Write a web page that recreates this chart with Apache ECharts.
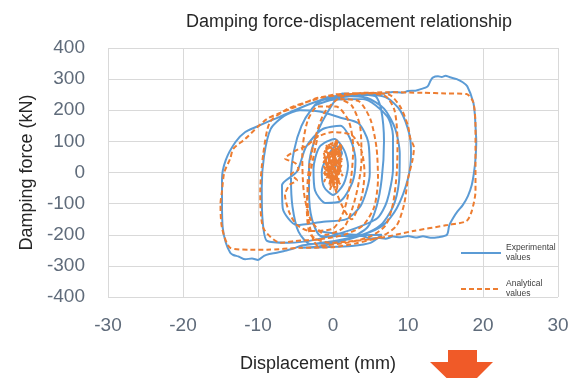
<!DOCTYPE html>
<html>
<head>
<meta charset="utf-8">
<script src="https://cdn.jsdelivr.net/npm/echarts@6/dist/echarts.min.js"></script>
<style>
  html, body { margin: 0; padding: 0; background: #fff; }
  #chart { width: 587px; height: 378px; }
</style>
</head>
<body>
<div id="chart"></div>
<script>
// axis ticks
const xTicks = [-30, -20, -10, 0, 10, 20, 30]
const yTicks = [-400, -300, -200, -100, 0, 100, 200, 300, 400]

const experimental = [
  [0, 0], [0.6, 35], [1.2, 62], [0.4, 86], [-0.8, 48], [-1.5, 2], [-1.2, -46], [0, -72],
  [1.4, -38], [2, 22], [1.5, 71], [0.2, 108], [-1.8, 82], [-2.6, 12], [-2.4, -58], [-1, -98],
  [1, -92], [2.6, -31], [3, 41], [2.4, 102],
  // loop to about -7 / +5
  [1, 150], [-1.5, 138], [-3.6, 82], [-4.8, 3], [-6.8, -41], [-6.7, -115], [-4.8, -169],
  [-1.3, -158], [1.8, -150], [3.8, -102], [4.9, -4], [4.7, 98], [3.4, 158], [1, 176],
  // loop to about -9 / +8
  [-1.8, 196], [-4.4, 200], [-6.5, 182], [-8.3, 140], [-9.2, 52], [-9.5, -48], [-9.4, -150],
  [-8.8, -220], [-6, -226], [-2, -214], [2.3, -185], [5.9, -147], [7.2, -92], [8, 13],
  [8, 118], [7.2, 181], [4, 236], [0, 234],
  // loop to about +9
  [-2.5, 215], [-1, 240], [1.5, 246], [4.5, 240], [6.8, 205], [8.3, 140], [8.9, 60],
  [8.8, -30], [8, -110], [6.4, -168], [3.8, -202], [0.5, -222], [-3, -230],
  // loop to about +10
  [-4.6, -190], [-5.4, -110], [-5.6, -20], [-5.2, 70], [-4.2, 150], [-2.8, 205],
  [-1.5, 232], [2, 244], [4.5, 251], [7.2, 240], [9, 198], [10.2, 121], [10.4, 62],
  [10, -19], [8.5, -115], [6.7, -169], [4, -199], [0, -221], [-4, -234],
  // biggest left loop
  [-5.5, -246], [-6.5, -252], [-7.5, -258], [-8.5, -262], [-9.2, -268], [-10, -281],
  [-10.8, -276], [-11.7, -279], [-12.6, -270], [-13.3, -265], [-13.7, -258], [-14.3, -225],
  [-14.7, -178], [-14.8, -100], [-14.8, -20], [-14.3, 40], [-13, 98], [-11.7, 130],
  [-10.2, 147], [-8.8, 162], [-7.2, 178], [-5.7, 194], [-3, 221], [0, 244], [3, 250],
  [5.6, 246], [6.4, 205], [6.8, 100], [6.5, -20], [5.8, -110], [4.6, -176], [2, -214],
  [-1.5, -236], [-4.4, -242], [-1, -240], [2.5, -236], [5, -226], [6.5, -200],
  // loop to about +19
  [-1.5, -205], [-2.8, -150], [-3.2, -60], [-3.2, 20], [-2.5, 100], [-1, 182], [1.3, 254],
  [3, 252], [5, 255], [6.5, 253], [8, 259], [9.2, 256], [10, 262], [11, 263], [11.6, 267],
  [12.6, 276], [13, 295], [13.3, 305], [14, 309], [14.5, 307], [15, 311], [15.6, 306],
  [16.5, 300], [17.3, 290], [17.9, 277], [18.7, 226], [18.9, 190], [19, 150], [19.1, 100],
  [19, 45], [18.8, 0], [18.5, -40], [18, -75], [17.3, -105], [16.6, -125], [16, -147],
  [15.5, -170], [15.2, -200], [14, -208], [13, -210], [12, -205], [11, -209], [10, -204],
  [9, -208], [8, -206], [7, -213], [6, -210], [5, -212], [4, -205], [3, -200], [0, -195],
  [-2, -188]
]

// analytical values (displacement mm, force kN)
const analytical = [
  [0, 0], [0.8, 60], [-0.9, 20], [1, 92], [-1.1, -10], [0.6, 102], [-0.5, -40], [1.2, 30],
  [-1.3, 70], [0.4, -58], [1.1, 82], [-0.8, -20], [0.9, 10], [-1.2, 50], [0.2, -48], [1, 62],
  [-0.6, 96], [0.7, -30], [-1, 40], [0.3, 76], [-0.4, -55], [1.2, 45], [-1.2, -5], [0.5, 108],
  [-0.2, -22], [0.9, 20], [-0.7, 64], [0.1, -40], [1.1, 88], [-1.3, 28], [0.6, -45],
  [-0.3, 84], [1.3, -12], [-1, 92], [0.2, 36], [-1.2, -30], [0.8, 72], [-0.5, 12],
  [1, -38], [-0.9, 78], [0.4, 100], [-0.1, -10],
  // wiggly inner loop
  [2.5, -150], [3.8, -80], [4.2, 0], [3.8, 70], [2.5, 120], [0, 130], [-2, 115], [-3.5, 86],
  [-5, 70], [-6.4, 45], [-5, 30], [-4.6, 10], [-5.6, -5], [-4.8, -25], [-5.8, -40], [-6.4, -73],
  [-5.8, -130], [-4.8, -169], [-3.1, -188], [0, -180], [1.5, -120], [2.4, -20], [2.7, 80],
  [2.1, 165], [0.4, 212], [-2, 212], [-3.4, 165], [-4.1, 60], [-3.9, -60], [-3, -150],
  [-1, -200], [1.5, -175], [3, -80], [3.8, 40], [3.6, 150], [2.5, 215], [1, 236],
  // loop to about -10 / +6
  [3.5, 228], [5, 170], [5.8, 80], [6, -20],
  [5.5, -110], [4, -170], [1.5, -200], [-2, -215], [-5, -220], [-7, -226], [-9.3, -178],
  [-9.7, -60], [-9.3, 60], [-8.4, 162], [-6, 205], [-3, 230], [0, 250],
  // loop to about +8
  [4, 255], [7, 245], [8.2, 200], [8.6, 100], [8.5, 0], [8, -100], [7, -170], [5, -205],
  [2, -225], [-2, -235], [-3.2, -160], [-3.4, -40], [-2.6, 90], [-1.2, 190], [1, 242],
  // loop to about +10.5 and biggest left loop
  [4, 256], [7.5, 250], [9, 210], [10, 150], [10.3, 110], [10.8, 80], [10.6, 40], [10, -20],
  [9.5, -100], [8.5, -170], [6.5, -205], [3, -228], [0, -240], [-4.4, -242], [-8.8, -248],
  [-11, -248], [-13.7, -242], [-14.8, -178], [-15, -100], [-14.8, -60], [-14.5, 0],
  [-13.7, 45], [-13.3, 76], [-11.7, 108], [-8.8, 172], [-5.7, 204], [-4.4, 217], [-2, 240],
  [2, 250],
  // loop to about +19
  [7.2, 258], [12, 256], [15, 254], [17.8, 252], [18.7, 226], [19, 150], [19, 100], [19, -60],
  [18.5, -124], [17.8, -156], [15.2, -169], [10.7, -188], [6.3, -210], [2, -222], [-0.4, -226],
  [-3, -200], [-3.5, -100], [-3, 0], [-2, 120]
]

const chart = echarts.init(document.getElementById('chart'))

const tickColor = '#5f6b7a'
const gridColor = '#d9d9d9'

const option = {
  animation: false,
  backgroundColor: '#fff',
  title: {
    text: 'Damping force-displacement relationship',
    left: 344,
    textAlign: 'center',
    top: 8,
    textStyle: {
      fontFamily: 'Liberation Sans, Arial, sans-serif',
      fontSize: 18,
      fontWeight: 'normal',
      color: '#262626'
    }
  },
  grid: {
    left: 108,
    right: 29,
    top: 48,
    bottom: 79,
    containLabel: false
  },
  legend: {
    orient: 'vertical',
    left: 455,
    top: 238,
    itemWidth: 40,
    itemHeight: 10,
    itemGap: 16,
    itemStyle: { color: 'rgba(0,0,0,0)', borderWidth: 0 },
    formatter: (name) => name.replace(' ', '\n'),
    textStyle: {
      fontFamily: 'Liberation Sans, Arial, sans-serif',
      fontSize: 8.5,
      lineHeight: 10,
      color: '#404040'
    }
  },
  xAxis: {
    type: 'value',
    min: xTicks[0],
    max: xTicks[xTicks.length - 1],
    interval: 10,
    name: 'Displacement (mm)',
    nameLocation: 'middle',
    nameGap: 58,
    nameTextStyle: {
      fontFamily: 'Liberation Sans, Arial, sans-serif',
      fontSize: 18,
      color: '#262626',
      padding: [0, 30, 0, 0]
    },
    axisLine: { show: false },
    axisTick: { show: false },
    axisLabel: {
      fontFamily: 'Liberation Sans, Arial, sans-serif',
      fontSize: 19,
      color: tickColor,
      margin: 19
    },
    splitLine: { show: true, lineStyle: { color: gridColor, width: 1 } }
  },
  yAxis: {
    type: 'value',
    min: yTicks[0],
    max: yTicks[yTicks.length - 1],
    interval: 100,
    name: 'Damping force (kN)',
    nameLocation: 'middle',
    nameGap: 72,
    nameTextStyle: {
      fontFamily: 'Liberation Sans, Arial, sans-serif',
      fontSize: 18,
      color: '#262626'
    },
    axisLine: { show: false },
    axisTick: { show: false },
    axisLabel: {
      fontFamily: 'Liberation Sans, Arial, sans-serif',
      fontSize: 19,
      color: tickColor,
      margin: 23
    },
    splitLine: { show: true, lineStyle: { color: gridColor, width: 1 } }
  },
  series: [
    {
      name: 'Experimental values',
      type: 'line',
      data: experimental,
      showSymbol: false,
      symbol: 'none',
      smooth: 0.25,
      lineStyle: { color: '#5b9bd5', width: 2 },
      itemStyle: { color: '#5b9bd5' }
    },
    {
      name: 'Analytical values',
      type: 'line',
      data: analytical,
      showSymbol: false,
      symbol: 'none',
      smooth: 0.25,
      lineStyle: { color: '#ed7d31', width: 2, type: [5, 3] },
      itemStyle: { color: '#ed7d31' }
    }
  ],
  // the orange arrow under the chart
  graphic: [
    {
      type: 'polygon',
      shape: {
        points: [[448, 350], [477, 350], [477, 362], [493, 362], [462, 393], [430, 362], [448, 362]]
      },
      style: { fill: '#f05a28' },
      silent: true
    }
  ]
}

chart.setOption(option)
</script>
</body>
</html>
